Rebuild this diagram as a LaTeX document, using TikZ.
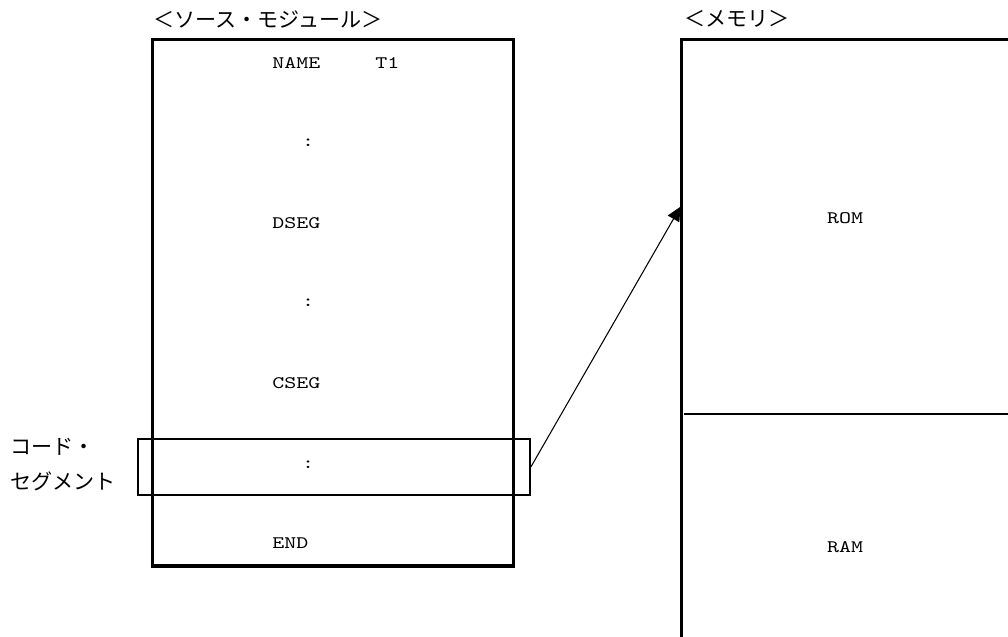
\documentclass[tikz,border=0pt]{standalone}
\usepackage{fontspec}
\newfontfamily\codefont{lmmono10-regular.otf}[FakeStretch=1.3]
\newfontfamily\jpfont{Noto Sans CJK JP}
\usepackage{tikz}
\usetikzlibrary{arrows.meta}
\tikzset{
    codeline/.style={font=\codefont\fontsize{10}{12}\selectfont, inner sep=0pt, anchor=west},
    jplabel/.style={font=\jpfont\fontsize{12}{14}\selectfont, inner sep=0pt, anchor=west},
    thickbox/.style={draw, line width=1.9pt},
    segbox/.style={draw, line width=1.1pt}
}

\begin{document}
\begin{tikzpicture}[x=0.02cm, y=-0.02cm]
            \useasboundingbox (0,0) rectangle (1008,636);

            % source module
            \node[jplabel] (srctitle) at (153,19) {＜ソース・モジュール＞};
            \node[thickbox, minimum width=7.212cm, minimum height=10.53cm] (src) at (333,302.75) {};
            \node[codeline] (name) at (272,63) {NAME};
            \node[codeline] (t1) at (375,63) {T1};
            \node[codeline] (dseg) at (272,223) {DSEG};
            \node[codeline] (cseg) at (272,383) {CSEG};
            \node[codeline] (end) at (272,543) {END};
            \foreach \y/\n in {143/dots1, 303/dots2, 465/dots3}
                \node[codeline, anchor=center] (\n) at (308,\y) {:};

            % memory
            \node[jplabel] (memtitle) at (684,19) {＜メモリ＞};
            \coordinate (memtl) at (681.7,39.5);
            \draw[line width=1.9pt] (1010,39.5) -- (memtl) -- (681.7,640);
            \draw[line width=0.9pt] (684,414) -- (1010,414);
            \node[codeline, anchor=center] (rom) at (845,218) {ROM};
            \node[codeline, anchor=center] (ram) at (845,547) {RAM};
            \coordinate (romin) at (680.5,206.7);

            % code segment
            \node[segbox, minimum width=7.846cm, minimum height=1.114cm] (seg) at (333.85,466.85) {};
            \node[jplabel] (seglbl1) at (10,447) {コード・};
            \node[jplabel] (seglbl2) at (10,481) {セグメント};
            \draw[line width=0.6pt, -{Triangle[length=8pt, width=7.5pt]}] (seg.east) -- (romin);
        \end{tikzpicture}
\end{document}
